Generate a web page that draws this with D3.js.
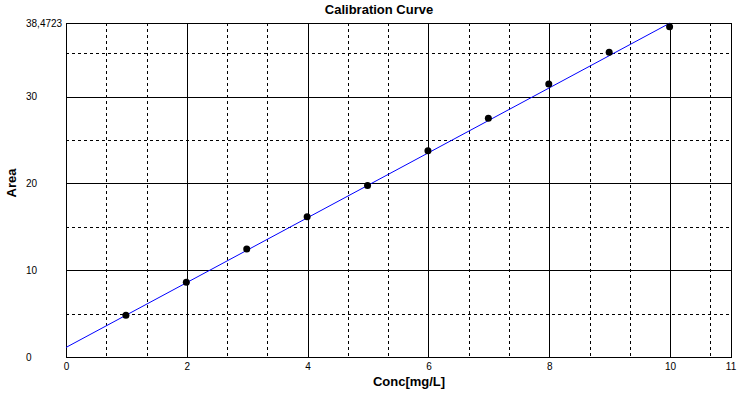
<!DOCTYPE html>
<html>
<head>
<meta charset="utf-8">
<script src="https://cdn.jsdelivr.net/npm/d3@7"></script>
<style>
  body { margin: 0; background: #fff; }
  svg { display: block; font-family: "Liberation Sans", Arial, sans-serif; }
</style>
</head>
<body>
<script>
// measured standards
var concValues = [1, 2, 3, 4, 5, 6, 7, 8, 9, 10];
var areaValues = [4.8, 8.6, 12.45, 16.15, 19.75, 23.75, 27.5, 31.45, 35.1, 38.05];

// fitted calibration line (end points)
var fitConc = [0, 10];
var fitArea = [1.1, 38.4723];

var xTickValues = [0, 2, 4, 6, 8, 10, 11];
var yTickValues = [0, 10, 20, 30, 38.4723];
var yTickLabels = ["0", "10", "20", "30", "38,4723"];
var xMajorGrid = [2, 4, 6, 8, 10];
var yMajorGrid = [10, 20, 30];
var yMinorGrid = [5, 15, 25, 35];

var width = 738, height = 398;
var plotLeft = 66, plotRight = 730.5, plotTop = 23, plotBottom = 357;

var svg = d3.select("body").append("svg")
    .attr("width", width)
    .attr("height", height);

var x = d3.scaleLinear().domain([0, 11]).range([plotLeft, plotRight]);
var y = d3.scaleLinear().domain([0, 38.4723]).range([plotBottom, plotTop]);

// minor vertical grid every 2/3 of a unit, skipping the major lines
var xMinorGrid = d3.range(1, 17).map(function (k) { return k * 2 / 3; })
    .filter(function (v) {
        return Math.abs(v / 2 - Math.round(v / 2)) > 1e-6 && v < 11;
    });

var grid = svg.append("g").attr("shape-rendering", "crispEdges");

grid.selectAll(".xminor").data(xMinorGrid).enter().append("line")
    .attr("x1", function (d) { return Math.round(x(d)) + 0.5; })
    .attr("x2", function (d) { return Math.round(x(d)) + 0.5; })
    .attr("y1", plotTop).attr("y2", plotBottom)
    .attr("stroke", "#000").attr("stroke-dasharray", "3,3");

grid.selectAll(".yminor").data(yMinorGrid).enter().append("line")
    .attr("x1", plotLeft).attr("x2", plotRight)
    .attr("y1", function (d) { return Math.round(y(d)) + 0.5; })
    .attr("y2", function (d) { return Math.round(y(d)) + 0.5; })
    .attr("stroke", "#000").attr("stroke-dasharray", "3,3");

grid.selectAll(".xmajor").data(xMajorGrid).enter().append("line")
    .attr("x1", function (d) { return Math.round(x(d)) + 0.5; })
    .attr("x2", function (d) { return Math.round(x(d)) + 0.5; })
    .attr("y1", plotTop).attr("y2", plotBottom)
    .attr("stroke", "#000");

grid.selectAll(".ymajor").data(yMajorGrid).enter().append("line")
    .attr("x1", plotLeft).attr("x2", plotRight)
    .attr("y1", function (d) { return Math.round(y(d)) + 0.5; })
    .attr("y2", function (d) { return Math.round(y(d)) + 0.5; })
    .attr("stroke", "#000");

grid.append("rect")
    .attr("x", plotLeft + 0.5).attr("y", plotTop + 0.5)
    .attr("width", plotRight - plotLeft).attr("height", plotBottom - plotTop)
    .attr("fill", "none").attr("stroke", "#000");

// axes (labels only)
var xAxis = svg.append("g")
    .attr("transform", "translate(0," + plotBottom + ")")
    .call(d3.axisBottom(x).tickValues(xTickValues).tickSize(0).tickPadding(6)
        .tickFormat(d3.format("d")));
xAxis.select(".domain").remove();
xAxis.selectAll("text").attr("font-size", 10).attr("fill", "#000");

var yAxis = svg.append("g")
    .attr("transform", "translate(" + plotLeft + ",0)")
    .call(d3.axisLeft(y).tickValues(yTickValues).tickSize(0)
        .tickFormat(function (d, i) { return yTickLabels[i]; }));
yAxis.select(".domain").remove();
yAxis.selectAll("text")
    .attr("x", 26 - plotLeft)
    .attr("text-anchor", "start")
    .attr("font-size", 10).attr("fill", "#000");

// fitted line
var fitData = fitConc.map(function (c, i) { return [c, fitArea[i]]; });
svg.append("path")
    .datum(fitData)
    .attr("d", d3.line()
        .x(function (d) { return x(d[0]); })
        .y(function (d) { return y(d[1]); }))
    .attr("fill", "none")
    .attr("stroke", "#0000ff")
    .attr("stroke-width", 1);

// data points
svg.selectAll(".pt").data(concValues).enter().append("circle")
    .attr("cx", function (d) { return x(d) - 0.5; })
    .attr("cy", function (d, i) { return y(areaValues[i]); })
    .attr("r", 3.5)
    .attr("fill", "#000");

// titles
svg.append("text")
    .attr("x", 379).attr("y", 14)
    .attr("text-anchor", "middle")
    .attr("font-size", 13).attr("font-weight", "bold")
    .text("Calibration Curve");

svg.append("text")
    .attr("x", 409).attr("y", 386)
    .attr("text-anchor", "middle")
    .attr("font-size", 13).attr("font-weight", "bold")
    .text("Conc[mg/L]");

svg.append("text")
    .attr("transform", "translate(16,183) rotate(-90)")
    .attr("text-anchor", "middle")
    .attr("font-size", 13).attr("font-weight", "bold")
    .text("Area");
</script>
</body>
</html>
